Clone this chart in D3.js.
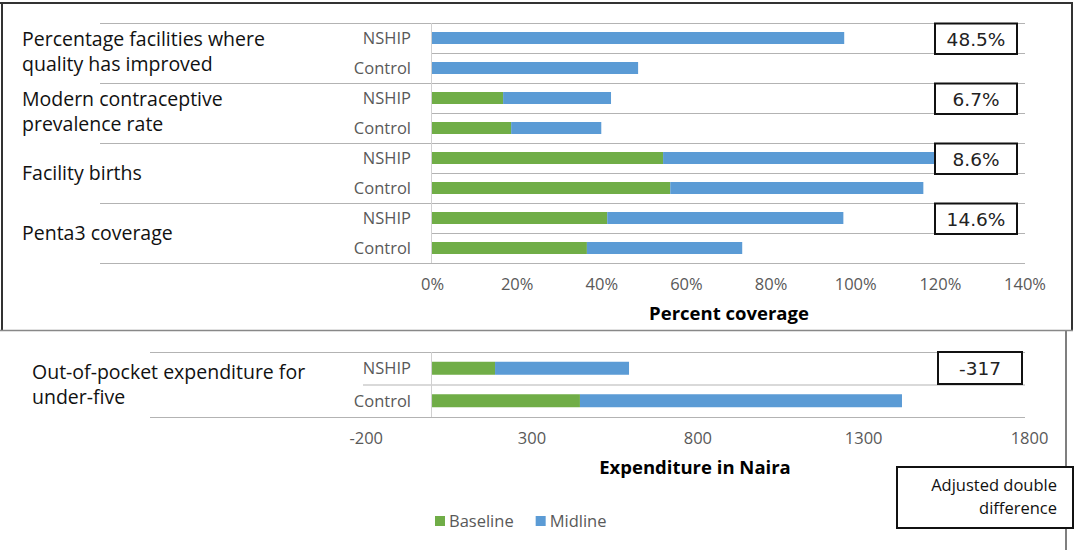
<!DOCTYPE html>
<html>
<head>
<meta charset="utf-8">
<script src="https://cdn.jsdelivr.net/npm/d3@7"></script>
<style>
  html, body { margin: 0; padding: 0; background: #fff; }
  svg { display: block; font-family: "Open Sans", "Noto Sans", sans-serif; }
</style>
</head>
<body>
<svg id="chart" width="1075" height="550"></svg>
<script>
// Coverage indicators: each group has an NSHIP row and a Control row
const indicators = [
  ["Percentage facilities where", "quality has improved"],
  ["Modern contraceptive", "prevalence rate"],
  ["Facility births"],
  ["Penta3 coverage"]
];
const arms = ["NSHIP", "Control"];
// Stacked segment lengths (percent), row order: NSHIP, Control per indicator
const coverageBaseline = [0, 0, 16.8, 18.7, 54.6, 56.3, 41.4, 36.6];
const coverageMidline  = [97.4, 48.7, 25.5, 21.3, 64.6, 59.8, 55.8, 36.7];
const coverageDiff = ["48.5%", "6.7%", "8.6%", "14.6%"];
const coverageTicks = [0, 20, 40, 60, 80, 100, 120, 140];

// Out-of-pocket expenditure (Naira)
const oopLabel = ["Out-of-pocket expenditure for", "under-five"];
const oopBaseline = [190, 446];
const oopMidline  = [404, 971];
const oopDiff = "-317";
const oopTicks = [-200, 300, 800, 1300, 1800];

const seriesNames = ["Baseline", "Midline"];
const colors = { Baseline: "#70ad47", Midline: "#5b9bd5" };

const svg = d3.select("#chart");
const gridColor = "#b3b3b3";
const labelColor = "#595959";
const FONT = "'Open Sans', 'Noto Sans', sans-serif";
const BOX_FONT = "'DejaVu Sans', sans-serif";

// ---------- outer frames ----------
const frame = svg.append("g").attr("stroke", "#333").attr("stroke-width", 2).attr("fill", "none");
frame.append("line").attr("x1", 0).attr("x2", 1073).attr("y1", 3).attr("y2", 3);
frame.append("line").attr("x1", 2).attr("x2", 2).attr("y1", 3).attr("y2", 331);
frame.append("line").attr("x1", 1072).attr("x2", 1072).attr("y1", 3).attr("y2", 331);
svg.append("line").attr("x1", 1066).attr("x2", 1066).attr("y1", 330).attr("y2", 550)
  .attr("stroke", "#555").attr("stroke-width", 1.5);
svg.append("line").attr("x1", 0).attr("x2", 1073).attr("y1", 330.5).attr("y2", 330.5)
  .attr("stroke", "#888").attr("stroke-width", 1.5);

// ---------- top chart: percent coverage ----------
const rowKeys = d3.range(indicators.length * 2);
const xTop = d3.scaleLinear().domain([0, 140]).range([432, 1024.5]);
const yTop = d3.scaleBand().domain(rowKeys).range([23, 263]);
const barH = yTop.bandwidth() * 0.4;

const topG = svg.append("g");

// gridlines between rows
rowKeys.forEach(i => {
  if (i % 2 === 1) {
    topG.append("line").attr("x1", xTop(0)).attr("x2", 1025)
      .attr("y1", yTop(i) + 0.5).attr("y2", yTop(i) + 0.5)
      .attr("stroke", gridColor);
  }
});
// group separators extend under the indicator labels
d3.range(indicators.length + 1).forEach(g => {
  const y = (g < indicators.length ? yTop(g * 2) : yTop.range()[1]) + 0.5;
  topG.append("line").attr("x1", 100).attr("x2", 1025)
    .attr("y1", y).attr("y2", y).attr("stroke", gridColor);
});
topG.append("line").attr("x1", xTop(0) - 0.5).attr("x2", xTop(0) - 0.5)
  .attr("y1", yTop.range()[0]).attr("y2", yTop.range()[1]).attr("stroke", "#d0d0d0");

const topStack = d3.stack().keys(seriesNames)(
  rowKeys.map(i => ({ row: i, Baseline: coverageBaseline[i], Midline: coverageMidline[i] }))
);
topG.selectAll("g.series").data(topStack).join("g")
  .attr("fill", d => colors[d.key])
  .selectAll("rect").data(d => d).join("rect")
  .attr("x", d => xTop(d[0]))
  .attr("width", d => Math.max(0, xTop(d[1]) - xTop(d[0])))
  .attr("y", d => yTop(d.data.row) + (yTop.bandwidth() - barH) / 2)
  .attr("height", barH);

// arm labels
topG.selectAll("text.arm").data(rowKeys).join("text")
  .attr("x", 411).attr("y", i => yTop(i) + yTop.bandwidth() / 2)
  .attr("dy", "0.35em").attr("text-anchor", "end")
  .attr("font-size", 16.5).attr("fill", labelColor)
  .text(i => arms[i % 2]);

// indicator labels
indicators.forEach((lines, g) => {
  const cy = yTop(g * 2) + yTop.bandwidth();
  const t = topG.append("text").attr("font-size", 19.5).attr("fill", "#111");
  lines.forEach((ln, k) => {
    t.append("tspan").attr("x", 22)
      .attr("y", cy + (k - (lines.length - 1) / 2) * 25 + (lines.length === 1 ? 0 : -1))
      .attr("dy", "0.35em").text(ln);
  });
});

// difference boxes
coverageDiff.forEach((v, g) => {
  const y0 = yTop(g * 2);
  topG.append("rect").attr("x", 935).attr("y", y0 + 0.5).attr("width", 82).attr("height", 30.5)
    .attr("fill", "#fff").attr("stroke", "#111").attr("stroke-width", 2);
  topG.append("text").attr("x", 976).attr("y", y0 + 16).attr("dy", "0.36em")
    .attr("text-anchor", "middle").attr("font-size", 18.5).attr("font-family", BOX_FONT)
    .attr("fill", "#222").text(v);
});

// x axis
const axTop = topG.append("g").attr("transform", "translate(0,263)")
  .call(d3.axisBottom(xTop).tickValues(coverageTicks).tickFormat(d => d + "%").tickSize(0).tickPadding(15));
axTop.select(".domain").remove();
axTop.selectAll("text").attr("font-size", 16.5).attr("fill", labelColor).attr("font-family", FONT);

topG.append("text").attr("x", 729).attr("y", 314).attr("dy", "0.35em")
  .attr("text-anchor", "middle").attr("font-size", 18.5).attr("font-weight", "bold")
  .attr("fill", "#000").text("Percent coverage");

// ---------- bottom chart: out-of-pocket expenditure ----------
const xBot = d3.scaleLinear().domain([-200, 1800]).range([365.7, 1029]);
const yBot = d3.scaleBand().domain([0, 1]).range([352, 417]);
const barH2 = yBot.bandwidth() * 0.4;
const botG = svg.append("g");

[352, 417].forEach(y => botG.append("line").attr("x1", 150).attr("x2", 1025)
  .attr("y1", y + 0.5).attr("y2", y + 0.5).attr("stroke", gridColor));
botG.append("line").attr("x1", 363).attr("x2", 1025)
  .attr("y1", yBot(1) + 0.5).attr("y2", yBot(1) + 0.5).attr("stroke", gridColor);
botG.append("line").attr("x1", xBot(0) - 0.5).attr("x2", xBot(0) - 0.5)
  .attr("y1", 352).attr("y2", 417).attr("stroke", "#d0d0d0");

const botStack = d3.stack().keys(seriesNames)(
  [0, 1].map(i => ({ row: i, Baseline: oopBaseline[i], Midline: oopMidline[i] }))
);
botG.selectAll("g.series").data(botStack).join("g")
  .attr("fill", d => colors[d.key])
  .selectAll("rect").data(d => d).join("rect")
  .attr("x", d => xBot(d[0]))
  .attr("width", d => xBot(d[1]) - xBot(d[0]))
  .attr("y", d => yBot(d.data.row) + (yBot.bandwidth() - barH2) / 2)
  .attr("height", barH2);

botG.selectAll("text.arm").data([0, 1]).join("text")
  .attr("x", 411).attr("y", i => yBot(i) + yBot.bandwidth() / 2)
  .attr("dy", "0.35em").attr("text-anchor", "end")
  .attr("font-size", 16.5).attr("fill", labelColor)
  .text(i => arms[i]);

const oopText = botG.append("text").attr("font-size", 19.5).attr("fill", "#111");
oopLabel.forEach((ln, k) => oopText.append("tspan").attr("x", 32)
  .attr("y", 372 + k * 25).attr("dy", "0.35em").text(ln));

botG.append("rect").attr("x", 938).attr("y", 352).attr("width", 84).attr("height", 32)
  .attr("fill", "#fff").attr("stroke", "#111").attr("stroke-width", 2);
botG.append("text").attr("x", 980).attr("y", 368).attr("dy", "0.36em")
  .attr("text-anchor", "middle").attr("font-size", 18.5).attr("font-family", BOX_FONT)
  .attr("fill", "#222").text(oopDiff);

const axBot = botG.append("g").attr("transform", "translate(0,417)")
  .call(d3.axisBottom(xBot).tickValues(oopTicks).tickFormat(d => String(d)).tickSize(0).tickPadding(15));
axBot.select(".domain").remove();
axBot.selectAll("text").attr("font-size", 16.5).attr("fill", labelColor).attr("font-family", FONT);

botG.append("text").attr("x", 695).attr("y", 468).attr("dy", "0.35em")
  .attr("text-anchor", "middle").attr("font-size", 18.5).attr("font-weight", "bold")
  .attr("fill", "#000").text("Expenditure in Naira");

// legend
const legend = svg.append("g").attr("transform", "translate(435,521)");
let lx = 0;
seriesNames.forEach(name => {
  const item = legend.append("g").attr("transform", `translate(${lx},0)`);
  item.append("rect").attr("x", 0).attr("y", -5).attr("width", 10).attr("height", 10).attr("fill", colors[name]);
  const t = item.append("text").attr("x", 14).attr("dy", "0.35em")
    .attr("font-size", 16.5).attr("fill", labelColor).text(name);
  lx += 14 + t.node().getComputedTextLength() + 22;
});

// note box
svg.append("rect").attr("x", 897).attr("y", 467).attr("width", 176).attr("height", 61)
  .attr("fill", "#fff").attr("stroke", "#111").attr("stroke-width", 2);
const note = svg.append("text").attr("text-anchor", "end").attr("font-size", 16.5).attr("fill", "#111");
note.append("tspan").attr("x", 1057).attr("y", 485).attr("dy", "0.35em").text("Adjusted double");
note.append("tspan").attr("x", 1057).attr("y", 508).attr("dy", "0.35em").text("difference");
</script>
</body>
</html>
